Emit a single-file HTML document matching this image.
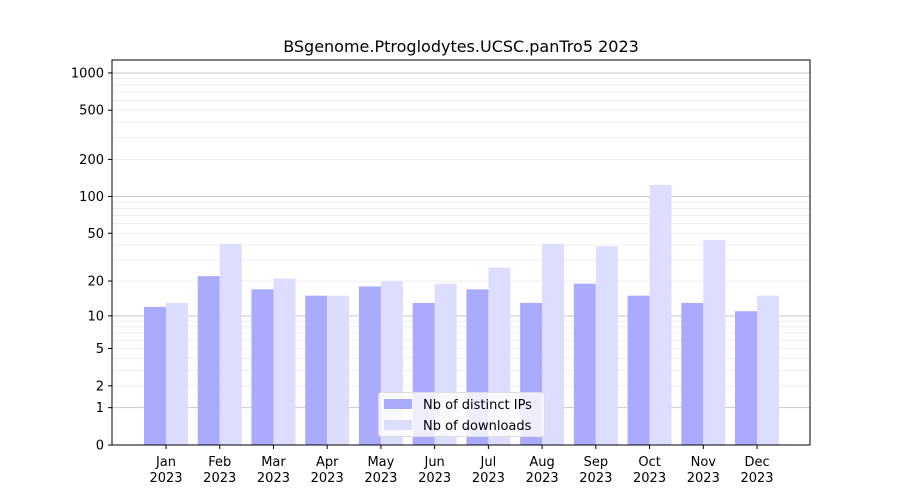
<!DOCTYPE html>
<html><head><meta charset="utf-8"><style>body{margin:0;background:#fff}svg{display:block;font-family:"DejaVu Sans","Liberation Sans",sans-serif}</style></head>
<body>
<svg id="s" width="900" height="500" xmlns="http://www.w3.org/2000/svg">
<rect width="900" height="500" fill="#fff"/>
<text x="461" y="52" font-size="16" text-anchor="middle" fill="#000">BSgenome.Ptroglodytes.UCSC.panTro5 2023</text>
<g id="g"></g>
</svg>
<script>
var g=document.getElementById('g'),h='';
function Y(v){return 445-124*Math.log10(1+v);}
// minor grid
var decs=[1,10,100,1000];
for(var d of [1,10,100]){for(var k=2;k<=9;k++){var y=Y(d*k);h+='<line x1="112" x2="810" y1="'+y+'" y2="'+y+'" stroke="#ececec" stroke-width="0.8"/>';}}
for(var k=2;k<=5;k++){var y=Y(1000*k);if(y>60)h+='<line x1="112" x2="810" y1="'+y+'" y2="'+y+'" stroke="#ececec" stroke-width="0.8"/>';}
for(var d of decs){var y=Y(d);h+='<line x1="112" x2="810" y1="'+y+'" y2="'+y+'" stroke="#c8c8c8" stroke-width="1"/>';}
var ip=[12,22,17,15,18,13,17,13,19,15,13,11],dl=[13,41,21,15,20,19,26,41,39,124,44,15];
var m=['Jan','Feb','Mar','Apr','May','Jun','Jul','Aug','Sep','Oct','Nov','Dec'];
for(var i=0;i<12;i++){var c=166+i*53.73;
h+='<rect x="'+(c-22)+'" y="'+Y(ip[i])+'" width="22" height="'+(445-Y(ip[i]))+'" fill="#aaaaff"/>';
h+='<rect x="'+c+'" y="'+Y(dl[i])+'" width="22" height="'+(445-Y(dl[i]))+'" fill="#ddddff"/>';
h+='<line x1="'+c+'" x2="'+c+'" y1="445" y2="449" stroke="#000"/>';
h+='<text x="'+c+'" y="466" font-size="13" text-anchor="middle">'+m[i]+'</text><text x="'+c+'" y="482" font-size="13" text-anchor="middle">2023</text>';}
var t=[0,1,2,5,10,20,50,100,200,500,1000];
for(var v of t){var y=Y(v);h+='<line x1="108" x2="112" y1="'+y+'" y2="'+y+'" stroke="#000"/><text x="104" y="'+(y+4.5)+'" font-size="13" text-anchor="end">'+v+'</text>';}
h+='<rect x="112" y="60" width="698" height="385" fill="none" stroke="#000" stroke-width="1"/>';
h+='<rect x="378.5" y="392.5" width="166" height="44" rx="3" fill="#fff" fill-opacity="0.8" stroke="#ddd"/>';
h+='<rect x="384" y="399" width="28" height="10" fill="#aaaaff"/><text x="423" y="409" font-size="13">Nb of distinct IPs</text>';
h+='<rect x="384" y="420" width="28" height="10" fill="#ddddff"/><text x="423" y="430" font-size="13">Nb of downloads</text>';
g.innerHTML=h;
</script>
</body></html>
